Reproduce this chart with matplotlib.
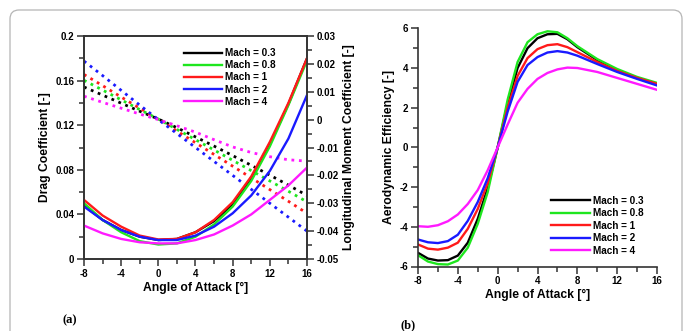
import matplotlib
matplotlib.use("Agg")
import matplotlib.pyplot as plt
from matplotlib.patches import FancyBboxPatch
from matplotlib.ticker import MultipleLocator, FixedLocator

plt.rcParams['font.family'] = ['Liberation Sans', 'DejaVu Sans']
plt.rcParams['font.weight'] = 'bold'

# ---------------- data ----------------
labels = ["Mach = 0.3", "Mach = 0.8", "Mach = 1", "Mach = 2", "Mach = 4"]
colors = ["#000000", "#1ee61e", "#ff1a1a", "#1a1aff", "#ff1aff"]

aoa_a = [-8, -6, -4, -2, 0, 2, 4, 6, 8, 10, 12, 14, 16]
cd_m03 = [0.048, 0.035, 0.026, 0.020, 0.017, 0.018, 0.024, 0.034, 0.049, 0.072, 0.103, 0.139, 0.180]
cd_m08 = [0.050, 0.035, 0.024, 0.016, 0.013, 0.014, 0.020, 0.031, 0.047, 0.070, 0.101, 0.138, 0.178]
cd_m1 = [0.053, 0.039, 0.029, 0.021, 0.0175, 0.018, 0.024, 0.035, 0.051, 0.074, 0.105, 0.140, 0.180]
cd_m2 = [0.047, 0.035, 0.026, 0.020, 0.017, 0.017, 0.021, 0.029, 0.041, 0.057, 0.079, 0.108, 0.147]
cd_m4 = [0.030, 0.023, 0.018, 0.015, 0.014, 0.014, 0.017, 0.022, 0.030, 0.040, 0.053, 0.066, 0.082]

cm_m03 = [0.0117, 0.0088, 0.0059, 0.0030, 0.0002, -0.0029, -0.0062, -0.0095, -0.0129, -0.0164, -0.0199, -0.0235, -0.0272]
cm_m08 = [0.0141, 0.0106, 0.0071, 0.0036, 0.0002, -0.0035, -0.0072, -0.0109, -0.0146, -0.0183, -0.0220, -0.0257, -0.0295]
cm_m1 = [0.0162, 0.0122, 0.0081, 0.0041, 0.0001, -0.0041, -0.0083, -0.0125, -0.0167, -0.0209, -0.0251, -0.0293, -0.0336]
cm_m2 = [0.0210, 0.0158, 0.0105, 0.0052, 0.0000, -0.0050, -0.0100, -0.0150, -0.0200, -0.0250, -0.0300, -0.0350, -0.0400]
cm_m4 = [0.0084, 0.0062, 0.0041, 0.0020, 0.0000, -0.0022, -0.0045, -0.0072, -0.0098, -0.0118, -0.0133, -0.0144, -0.0149]

aoa_b = [-8, -7, -6, -5, -4, -3, -2, -1, 0, 1, 2, 3, 4, 5, 6, 7, 8, 10, 12, 14, 16]
ld_m03 = [-5.31, -5.6, -5.7, -5.68, -5.45, -4.8, -3.6, -2.05, 0, 2.2, 4.0, 5.0, 5.5, 5.7, 5.72, 5.45, 5.05, 4.4, 3.9, 3.5, 3.2]
ld_m08 = [-5.43, -5.75, -5.88, -5.9, -5.7, -5.05, -3.85, -2.25, 0, 2.4, 4.3, 5.3, 5.7, 5.85, 5.8, 5.5, 5.1, 4.45, 3.95, 3.55, 3.25]
ld_m1 = [-4.89, -5.1, -5.15, -5.05, -4.8, -4.1, -3.1, -1.8, 0, 2.0, 3.6, 4.5, 4.95, 5.15, 5.2, 5.05, 4.8, 4.3, 3.85, 3.5, 3.2]
ld_m2 = [-4.64, -4.78, -4.82, -4.72, -4.4, -3.7, -2.75, -1.55, 0, 1.8, 3.3, 4.15, 4.55, 4.78, 4.85, 4.78, 4.62, 4.2, 3.8, 3.45, 3.12]
ld_m4 = [-3.97, -4.0, -3.92, -3.72, -3.38, -2.85, -2.15, -1.15, 0, 1.15, 2.25, 2.95, 3.45, 3.75, 3.93, 4.02, 4.0, 3.8, 3.5, 3.2, 2.9]

cd_all = [cd_m03, cd_m08, cd_m1, cd_m2, cd_m4]
cm_all = [cm_m03, cm_m08, cm_m1, cm_m2, cm_m4]
ld_all = [ld_m03, ld_m08, ld_m1, ld_m2, ld_m4]

xticks = [-8, -4, 0, 4, 8, 12, 16]
cd_ticks = [0, 0.04, 0.08, 0.12, 0.16, 0.2]
cd_ticklabels = ["0", "0.04", "0.08", "0.12", "0.16", "0.2"]
cm_ticks = [-0.05, -0.04, -0.03, -0.02, -0.01, 0, 0.01, 0.02, 0.03]
cm_ticklabels = ["-0.05", "-0.04", "-0.03", "-0.02", "-0.01", "0", "0.01", "0.02", "0.03"]
ld_ticks = [-6, -4, -2, 0, 2, 4, 6]
ld_ticklabels = ["-6", "-4", "-2", "0", "2", "4", "6"]

# ---------------- figure ----------------
W, H = 683, 331
fig = plt.figure(figsize=(W / 100, H / 100), dpi=100)

def rect(l, t, r, b):
    return [l / W, 1 - b / H, (r - l) / W, (b - t) / H]

spine_col = "#333333"
tick_fs = 7
lab_fs = 8.7

def style_ticks(ax):
    ax.tick_params(axis='both', which='major', direction='out', length=5, width=1.1,
                   color=spine_col, labelsize=tick_fs, pad=2)
    ax.tick_params(axis='both', which='minor', direction='out', length=3.5, width=1.1,
                   color=spine_col)
    for s in ax.spines.values():
        s.set_color(spine_col)
        s.set_linewidth(1.2)

# Panel (a)
ax1 = fig.add_axes(rect(84, 36, 307, 259))
for y, c, lab in zip(cd_all, colors, labels):
    ax1.plot(aoa_a, y, color=c, lw=1.7, label=lab)
ax1.set_xlim(-8, 16)
ax1.set_ylim(0, 0.2)
ax1.xaxis.set_major_locator(FixedLocator(xticks))
ax1.xaxis.set_minor_locator(MultipleLocator(2))
ax1.set_xticklabels([str(v) for v in xticks])
ax1.yaxis.set_major_locator(FixedLocator(cd_ticks))
ax1.yaxis.set_minor_locator(MultipleLocator(0.02))
ax1.set_yticklabels(cd_ticklabels)
style_ticks(ax1)
ax1.set_xlabel("Angle of Attack [°]", fontsize=lab_fs, fontweight='bold', labelpad=2)
ax1.set_ylabel("Drag Coefficient [-]", fontsize=lab_fs, fontweight='bold', labelpad=3)

ax1r = ax1.twinx()
for y, c in zip(cm_all, colors):
    ax1r.plot(aoa_a, y, color=c, lw=2.0, linestyle=(0, (1.0, 1.7)))
ax1r.set_ylim(-0.05, 0.03)
ax1r.yaxis.set_major_locator(FixedLocator(cm_ticks))
ax1r.yaxis.set_minor_locator(MultipleLocator(0.005))
ax1r.set_yticklabels(cm_ticklabels)
style_ticks(ax1r)
ax1r.set_ylabel("Longitudinal Moment Coefficient [-]", fontsize=lab_fs,
                fontweight='bold', rotation=90, labelpad=3)

leg1 = ax1.legend(loc='upper left', bbox_to_anchor=(184 / W, 1 - 48 / H),
                  bbox_transform=fig.transFigure, frameon=False, fontsize=7.2,
                  handlelength=3.8, handletextpad=0.3, labelspacing=0.22,
                  borderpad=0, borderaxespad=0)
for t in leg1.get_texts():
    t.set_fontweight('bold')
ax1.set_zorder(ax1r.get_zorder() + 1)
ax1.patch.set_visible(False)

# Panel (b)
ax2 = fig.add_axes(rect(418, 28.3, 657, 266.5))
for y, c, lab in zip(ld_all, colors, labels):
    ax2.plot(aoa_b, y, color=c, lw=1.7, label=lab)
ax2.set_xlim(-8, 16)
ax2.set_ylim(-6, 6)
ax2.xaxis.set_major_locator(FixedLocator(xticks))
ax2.xaxis.set_minor_locator(MultipleLocator(2))
ax2.set_xticklabels([str(v) for v in xticks])
ax2.yaxis.set_major_locator(FixedLocator(ld_ticks))
ax2.yaxis.set_minor_locator(MultipleLocator(1))
ax2.set_yticklabels(ld_ticklabels)
style_ticks(ax2)
ax2.spines['top'].set_visible(False)
ax2.spines['right'].set_visible(False)
ax2.set_xlabel("Angle of Attack [°]", fontsize=lab_fs, fontweight='bold', labelpad=2)
ax2.set_ylabel("Aerodynamic Efficiency [-]", fontsize=lab_fs, fontweight='bold', labelpad=3)
leg2 = ax2.legend(loc='upper left', bbox_to_anchor=(551 / W, 1 - 196 / H),
                  bbox_transform=fig.transFigure, frameon=False, fontsize=7.2,
                  handlelength=3.9, handletextpad=0.3, labelspacing=0.24,
                  borderpad=0, borderaxespad=0)
for t in leg2.get_texts():
    t.set_fontweight('bold')

for a in (ax1, ax1r, ax2):
    for lbl in a.get_xticklabels() + a.get_yticklabels():
        lbl.set_fontweight('bold')

# Panel tags
fig.text(70 / W, 1 - 320 / H, "(a)", fontsize=9, fontweight='bold',
         family=['Liberation Serif', 'DejaVu Serif'], ha='center', va='center')
fig.text(408 / W, 1 - 325 / H, "(b)", fontsize=9, fontweight='bold',
         family=['Liberation Serif', 'DejaVu Serif'], ha='center', va='center')

# Rounded frame
frame = FancyBboxPatch((10, -30), 672, H - 10 + 30, boxstyle="round,pad=0,rounding_size=9",
                       transform=None, fill=False, edgecolor="#b5b5b5", lw=0.9)
fig.add_artist(frame)

fig.savefig("out.png", dpi=100)
